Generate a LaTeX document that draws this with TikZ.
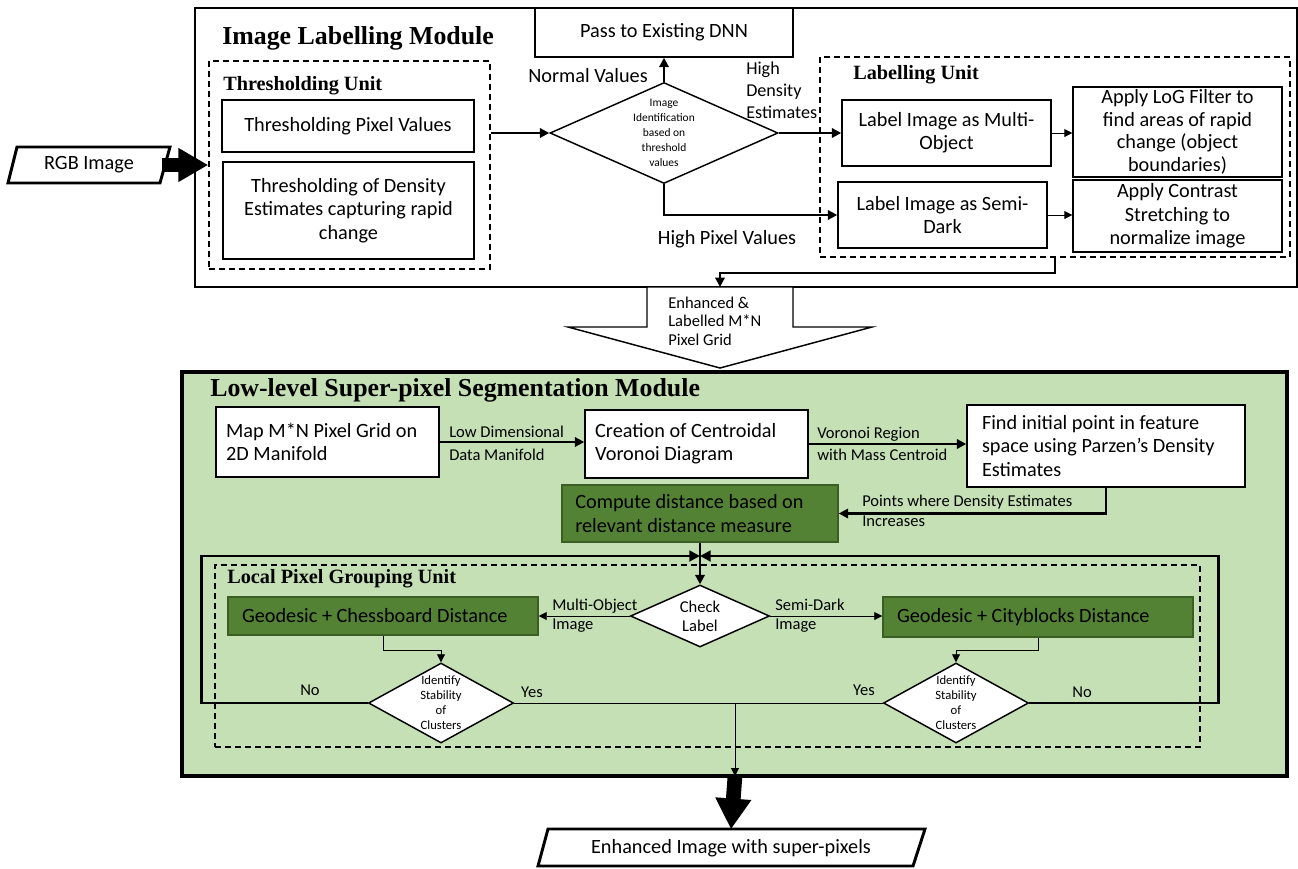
\documentclass[tikz,border=0pt]{standalone}
\usepackage{fontspec}
\setmainfont{Carlito}
\newfontfamily\tnr{Liberation Serif}
\usetikzlibrary{arrows.meta,shapes.geometric,fit}
\definecolor{lgreen}{HTML}{C5E0B4}
\definecolor{dgreen}{HTML}{548235}
\definecolor{dgborder}{HTML}{3B5E25}
\newcommand{\fbody}{\fontsize{15.2pt}{17.5pt}\selectfont}
\newcommand{\flab}{\fontsize{12.4pt}{14.3pt}\selectfont}
\newcommand{\fsmall}{\fontsize{8.6pt}{11.2pt}\selectfont}
\newcommand{\fstab}{\fontsize{9.5pt}{11.3pt}\selectfont}
\newcommand{\ftitle}{\tnr\bfseries\fontsize{19.4pt}{22pt}\selectfont}
\newcommand{\fsub}{\tnr\bfseries\fontsize{15.2pt}{18pt}\selectfont}
\tikzset{
  box/.style={draw, line width=1.1pt, fill=white, inner sep=0pt, font=\fbody, align=center},
  gbox/.style={box, fill=dgreen, draw=dgborder},
  sz/.style 2 args={minimum width=#1, minimum height=#2},
  dbox/.style={draw, dash pattern=on 4.5pt off 3pt, line width=1.1pt, inner sep=0pt},
  dia/.style={diamond, draw, line width=1.1pt, fill=white, inner sep=0pt, align=center},
  lab/.style={font=\flab, inner sep=0pt},
  conn/.style={line width=1.6pt, -{Triangle[length=7pt,width=7pt]}},
  thinar/.style={line width=0.7pt, -{Triangle[length=6pt,width=6pt]}},
  thinln/.style={line width=0.7pt},
  fbloop/.style={line width=2.2pt, -{Triangle[length=8pt,width=8pt]}},
}
\begin{document}
\begin{tikzpicture}[x=0.75pt,y=-0.75pt]
\useasboundingbox (0,0) rectangle (1298,868);

% ---------------- Image Labelling Module ----------------
\node[box, fit={(195,8)(1297,287)}] (ilm) {};
\node[font=\ftitle, anchor=west, inner sep=0pt] (ilmt) at (222,38) {Image Labelling Module};

\node[dbox, fit={(209,61)(490,269)}] (thu) {};
\node[font=\fsub, anchor=west, inner sep=0pt] (thut) at (223,86) {Thresholding Unit};
\node[box, sz={189pt}{39pt}] (tpv) at (348,126) {Thresholding Pixel Values};
\node[box, sz={188.25pt}{72.75pt}] (tde) at (348.5,210.5) {Thresholding of Density\\Estimates capturing rapid\\change};

\node[box, sz={193.5pt}{36.75pt}] (pass) at (664,32.5) {Pass to Existing DNN};
\node[dia, font=\fsmall, minimum width=171pt, minimum height=75.75pt, aspect=2.26] (idd) at (664,133)
  {Image\\Identification\\based on\\threshold\\values};

\node[font=\fbody, anchor=east, inner sep=0pt] (nv) at (648,76) {Normal Values};
\node[font=\fontsize{13.6pt}{16.5pt}\selectfont, anchor=west, align=left, inner sep=0pt] (hde) at (746,90) {High\\Density\\Estimates};
\node[font=\fbody, inner sep=0pt] (hpv) at (727,239) {High Pixel Values};

\node[dbox, fit={(820,57)(1290,257)}] (lu) {};
\node[font=\fsub, anchor=west, inner sep=0pt] (lut) at (853,75) {Labelling Unit};
\node[box, sz={156.75pt}{49.5pt}] (mo) at (946.5,133) {Label Image as Multi-\\Object};
\node[box, sz={156.75pt}{67.5pt}, font=\fontsize{15.2pt}{17pt}\selectfont] (log) at (1177.5,132) {Apply LoG Filter to\\find areas of rapid\\change (object\\boundaries)};
\node[box, sz={156.75pt}{49.5pt}] (sd) at (942.5,215) {Label Image as Semi-\\Dark};
\node[box, sz={156.75pt}{54pt}] (ct) at (1177.5,216) {Apply Contrast\\Stretching to\\normalize image};

% RGB input
\node[font=\fbody, inner sep=0pt, minimum width=109.5pt, minimum height=27pt] (rgb) at (89,165) {RGB Image};
\draw[line width=2.2pt] (17,147) -- (170,147) -- (160,183) -- (8,183) -- cycle;
\draw[line width=10.5pt, -{Triangle[length=22.5pt,width=24pt]}] (rgb.east) -- (thu.west);

% connectors top
\draw[conn] (thu.east |- idd.west) -- (idd.west);
\draw[conn] (idd.north) -- (pass.south);
\draw[conn] (idd.east) -- (mo.west);
\draw[conn] (idd.south) |- (sd.west);
\draw[thinar] (mo.east) -- (mo.east -| log.west);
\draw[thinar] (sd.east) -- (sd.east -| ct.west);

% big hollow arrow
\draw[line width=1.1pt, fill=white] (647,287) -- (793,287) -- (793,327) -- (872,327) -- (720,368) -- (568,327) -- (647,327) -- cycle;
\node[font=\fontsize{12.4pt}{13.9pt}\selectfont, anchor=west, align=left, inner sep=0pt] (egrid) at (668,321) {Enhanced \&\\Labelled M*N\\Pixel Grid};
\coordinate (bat) at (720,287);
\draw[conn] (lu.south) -- ++(0,15) -| (bat);

% ---------------- Low-level Super-pixel Segmentation Module ----------------
\node[draw, line width=3pt, fill=lgreen, inner sep=0pt, fit={(182,372)(1287,776)}] (seg) {};
\node[font=\ftitle, anchor=west, inner sep=0pt] (segt) at (210,390) {Low-level Super-pixel Segmentation Module};

\node[box, align=flush left, text width=152pt, sz={167.25pt}{52.5pt}] (map) at (327.5,442) {Map M*N Pixel Grid on\\2D Manifold};
\node[box, align=flush left, text width=152pt, sz={167.25pt}{51pt}] (cre) at (696.5,444) {Creation of Centroidal\\Voronoi Diagram};
\node[box, align=flush left, text width=186pt, sz={208.5pt}{61.5pt}] (find) at (1106,446) {Find initial point in feature\\space using Parzen’s Density\\Estimates};
\node[gbox, align=flush left, text width=187pt, sz={207pt}{42.75pt}] (comp) at (700,513.5) {Compute distance based on\\relevant distance measure};

\node[lab, anchor=west] (ld1) at (449,432) {Low Dimensional};
\node[lab, anchor=west] (ld2) at (449,455) {Data Manifold};
\node[lab, anchor=west] (vr1) at (817,434) {Voronoi Region};
\node[lab, anchor=west] (vr2) at (817,455) {with Mass Centroid};
\node[lab, anchor=west] (pd1) at (862,502) {Points where Density Estimates};
\node[lab, anchor=west] (pd2) at (862,521) {Increases};

\draw[conn] (map.east) -- (map.east -| cre.west);
\draw[conn] (cre.east) -- (cre.east -| find.west);
\draw[conn] (find.south) |- (comp.east);

% Local pixel grouping unit
\node[dbox, fit={(215,565)(1200,747)}] (lpg) {};
\node[font=\fsub, anchor=west, inner sep=0pt] (lpgt) at (227,579) {Local Pixel Grouping Unit};
\node[gbox, align=flush left, text width=211.5pt, sz={232.5pt}{28.5pt}] (chess) at (383,616) {Geodesic + Chessboard Distance};
\node[gbox, align=flush left, text width=211.5pt, sz={232.5pt}{30pt}] (city) at (1038,617) {Geodesic + Cityblocks Distance};
\node[dia, font=\flab, minimum width=104.25pt, minimum height=46.5pt, aspect=2.24] (chk) at (700,616) {Check\\Label};
\node[dia, font=\fstab, minimum width=108.75pt, minimum height=60pt, aspect=1.81] (stL) at (441,703) {Identify\\Stability\\of\\Clusters};
\node[dia, font=\fstab, minimum width=108.75pt, minimum height=60pt, aspect=1.81] (stR) at (956,703) {Identify\\Stability\\of\\Clusters};

\node[lab, anchor=west, align=left] (moi) at (552,616) {Multi-Object\\Image};
\node[lab, anchor=west, align=left] (sdi) at (775,616) {Semi-Dark\\Image};
\node[lab] (noL) at (310,690) {No};
\node[lab] (yesL) at (532,692) {Yes};
\node[lab] (yesR) at (864,690) {Yes};
\node[lab] (noR) at (1082,692) {No};

\coordinate (mid) at (700,556);
\draw[conn] (comp.south) -- (chk.north);
\draw[thinar] (chk.west) -- (chk.west -| chess.east);
\draw[thinar] (chk.east) -- (chk.east -| city.west);
\draw[thinar] (chess.south) -- ++(0,15) -| (stL.north);
\draw[thinar] (city.south) -- ++(0,13) -| (stR.north);
\draw[fbloop] (stL.west) -- ++(-166,0) |- (mid);
\draw[fbloop] (stR.east) -- ++(189,0) |- (mid);
\draw[thinln] (stL.east) -- (stR.west);
\coordinate (yj) at (735,703);
\coordinate (gb) at (735,776);
\draw[thinar] (yj) -- (gb);

% output
\node[font=\fbody, inner sep=0pt, minimum width=270pt, minimum height=27.75pt] (out) at (731,848) {Enhanced Image with super-pixels};
\draw[line width=2.2pt] (548,829) -- (925,829) -- (913,866) -- (538,866) -- cycle;
\draw[line width=11pt, -{Triangle[length=23pt,width=25.5pt]}] (gb) -- (out.north);
\end{tikzpicture}
\end{document}
